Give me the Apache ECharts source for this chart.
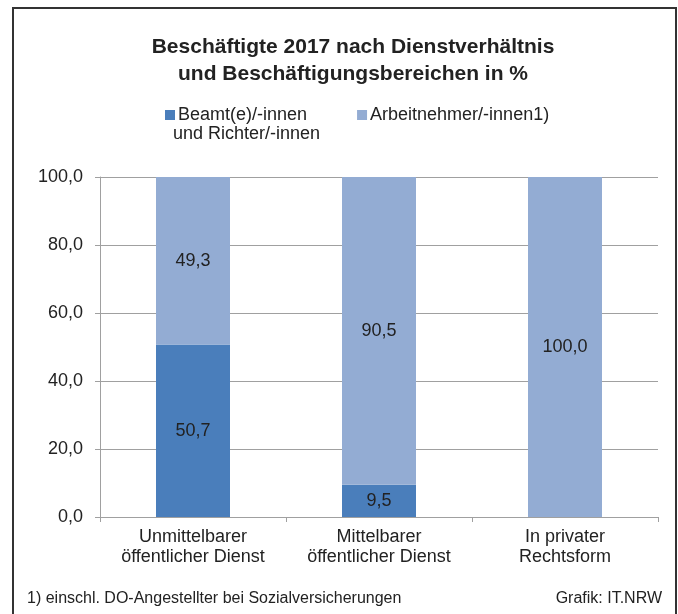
<!DOCTYPE html>
<html>
<head>
<meta charset="utf-8">
<script src="https://cdn.jsdelivr.net/npm/echarts@6/dist/echarts.min.js"></script>
<style>
html,body{margin:0;padding:0;background:#fff;}
#chart{width:678px;height:614px;}
</style>
</head>
<body>
<div id="chart"></div>
<script>
const categories = ['Unmittelbarer\nöffentlicher Dienst', 'Mittelbarer\nöffentlicher Dienst', 'In privater\nRechtsform'];
const beamte = [50.7, 9.5, 0];
const arbeitnehmer = [49.3, 90.5, 100.0];
const yTicks = [0, 20, 40, 60, 80, 100];
const seriesNames = ['Beamt(e)/-innen', 'Arbeitnehmer/-innen1)'];
const legendSecondLine = 'und Richter/-innen';

const FONT = '"Liberation Sans", Arial, sans-serif';
const fmt = v => v.toFixed(1).replace('.', ',');

const chart = echarts.init(document.getElementById('chart'), null, {renderer: 'canvas'});
chart.setOption({
  animation: false,
  backgroundColor: '#fff',
  title: {
    text: 'Beschäftigte 2017 nach Dienstverhältnis\nund Beschäftigungsbereichen in %',
    left: 348, top: 29, textAlign: 'center',
    textStyle: {fontFamily: FONT, fontSize: 21, fontWeight: 'bold', color: '#222', lineHeight: 27}
  },
  legend: {
    left: 160, top: 101,
    itemWidth: 10, itemHeight: 10, itemGap: 50,
    icon: 'rect',
    textStyle: {fontFamily: FONT, fontSize: 18, color: '#222', padding: [0, 0, 0, -2]},
    data: seriesNames
  },
  grid: {left: 100, right: 20, top: 177, bottom: 97, containLabel: false},
  xAxis: {
    type: 'category',
    data: categories,
    axisLine: {lineStyle: {color: '#a0a0a0', width: 1}},
    axisTick: {show: true, length: 5, lineStyle: {color: '#a0a0a0'}},
    axisLabel: {interval: 0, fontFamily: FONT, fontSize: 18, color: '#222', lineHeight: 20, margin: 10}
  },
  yAxis: {
    type: 'value', min: 0, max: 100, interval: 20,
    axisLine: {show: true, lineStyle: {color: '#a0a0a0', width: 1}},
    axisTick: {show: true, length: 5, lineStyle: {color: '#a0a0a0'}},
    splitLine: {lineStyle: {color: '#a0a0a0', width: 1}},
    axisLabel: {fontFamily: FONT, fontSize: 18, color: '#222', margin: 17, formatter: v => fmt(v)}
  },
  series: [
    {
      name: seriesNames[0], type: 'bar', stack: 'a', data: beamte, barWidth: 74,
      itemStyle: {color: '#4a7ebb'},
      label: {show: true, position: 'inside', fontFamily: FONT, fontSize: 18, color: '#222',
        formatter: p => p.value > 0 ? fmt(p.value) : ''}
    },
    {
      name: seriesNames[1], type: 'bar', stack: 'a', data: arbeitnehmer, barWidth: 74,
      itemStyle: {color: '#93acd3'},
      label: {show: true, position: 'inside', fontFamily: FONT, fontSize: 18, color: '#222',
        formatter: p => p.value > 0 ? fmt(p.value) : ''}
    }
  ],
  graphic: [
    {type: 'rect', z: 100, shape: {x: 13, y: 8, width: 663, height: 620},
      style: {fill: 'none', stroke: '#333', lineWidth: 2}, silent: true},
    {type: 'text', left: 173, top: 125, z: 100,
      style: {text: legendSecondLine, font: '18px ' + FONT, fill: '#222'}},
    {type: 'text', left: 27, top: 591, z: 100,
      style: {text: '1) einschl. DO-Angestellter bei Sozialversicherungen', font: '16px ' + FONT, fill: '#222'}},
    {type: 'text', right: 16, top: 591, z: 100,
      style: {text: 'Grafik: IT.NRW', font: '16px ' + FONT, fill: '#222'}}
  ]
});
</script>
</body>
</html>
